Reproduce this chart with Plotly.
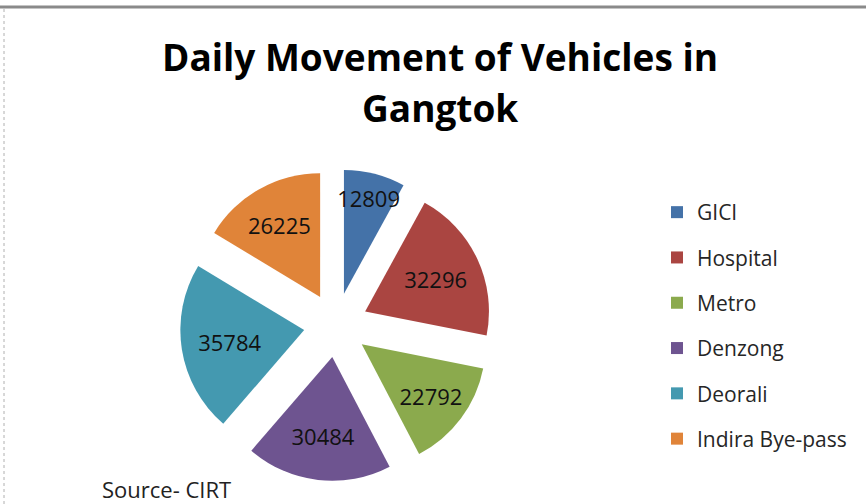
import plotly.graph_objects as go

# Daily vehicle counts at each checkpoint
locations = ["GICI", "Hospital", "Metro", "Denzong", "Deorali", "Indira Bye-pass"]
vehicles = [12809, 32296, 22792, 30484, 35784, 26225]
slice_colors = ["#4472A8", "#AA4541", "#8BAA4D", "#6E5490", "#4499B0", "#E08439"]

title_lines = ["Daily Movement of Vehicles in", "Gangtok"]
source_note = "Source- CIRT"

FONT = "Open Sans, Calibri, Arial, sans-serif"

fig = go.Figure()

fig.add_trace(go.Pie(
    labels=locations,
    values=vehicles,
    marker=dict(colors=slice_colors, line=dict(width=0)),
    sort=False,
    direction="clockwise",
    rotation=0,
    pull=[0.26] * len(vehicles),
    texttemplate="%{value:d}",
    textposition="inside",
    insidetextorientation="horizontal",
    textfont=dict(family=FONT, size=22, color="#111111"),
    hoverinfo="label+value",
    showlegend=False,
    domain=dict(x=[0.2078, 0.5681], y=[0.0456, 0.6647]),
))

# Legend entries with square swatches, one group each so they can be spaced out
for name, color in zip(locations, slice_colors):
    fig.add_trace(go.Scatter(
        x=[None], y=[None],
        mode="markers",
        marker=dict(symbol="square", size=12, color=color),
        name=name,
        legendgroup=name,
        showlegend=True,
        hoverinfo="skip",
    ))

annotations = [
    dict(text=f"<b>{title_lines[0]}</b>", x=0.508, y=1 - 56 / 504, xref="paper", yref="paper",
         showarrow=False, xanchor="center", yanchor="middle",
         font=dict(family=FONT, size=37, color="#000000")),
    dict(text=f"<b>{title_lines[1]}</b>", x=0.508, y=1 - 107 / 504, xref="paper", yref="paper",
         showarrow=False, xanchor="center", yanchor="middle",
         font=dict(family=FONT, size=37, color="#000000")),
    dict(text=source_note, x=100 / 866, y=1 - 489 / 504, xref="paper", yref="paper",
         showarrow=False, xanchor="left", yanchor="middle",
         font=dict(family=FONT, size=22, color="#222222")),
]

# Chart frame: heavy top rule and a thin left edge
shapes = [
    dict(type="line", xref="paper", yref="paper", x0=0, x1=1, y0=1 - 7 / 504, y1=1 - 7 / 504,
         line=dict(color="#8A8A8A", width=3)),
    dict(type="line", xref="paper", yref="paper", x0=4 / 866, x1=4 / 866, y0=0, y1=1 - 7 / 504,
         line=dict(color="#B0B0B0", width=1, dash="dot")),
]

fig.update_layout(
    width=866,
    height=504,
    margin=dict(l=0, r=0, t=0, b=0),
    paper_bgcolor="white",
    plot_bgcolor="white",
    xaxis=dict(visible=False),
    yaxis=dict(visible=False),
    annotations=annotations,
    shapes=shapes,
    uniformtext=dict(minsize=22, mode="show"),
    legend=dict(
        x=657 / 866, y=1 - 192 / 504, xanchor="left", yanchor="top",
        font=dict(family=FONT, size=21, color="#262626"),
        tracegroupgap=15,
        bgcolor="rgba(0,0,0,0)",
        itemclick=False,
    ),
)

fig.write_html("out.html")
